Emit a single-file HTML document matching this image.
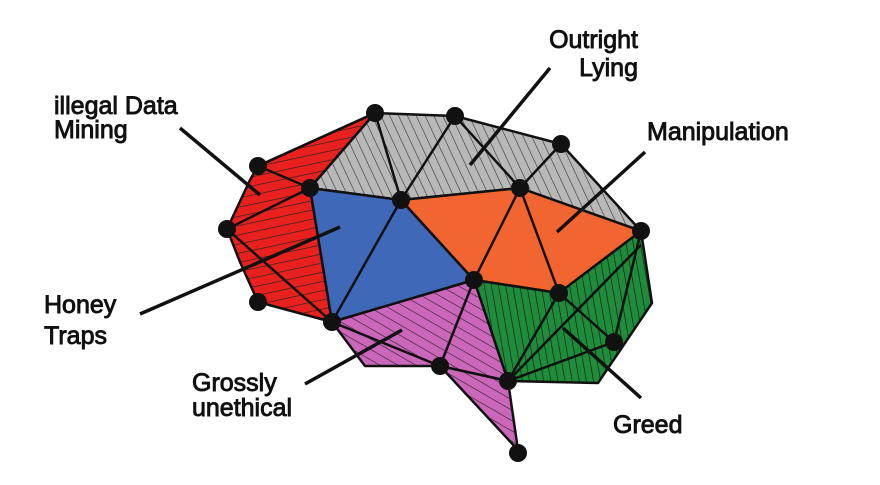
<!DOCTYPE html>
<html><head><meta charset="utf-8"><style>
html,body{margin:0;padding:0;background:#fff;}
svg{display:block}
text{font-family:"Liberation Sans",sans-serif;font-size:25px;fill:#111;stroke:#111;stroke-width:0.9px}
</style></head><body>
<svg width="880" height="485" viewBox="0 0 880 485" xmlns="http://www.w3.org/2000/svg">
<defs>
<pattern id="pr" patternUnits="userSpaceOnUse" width="9" height="9" patternTransform="rotate(-12)"><rect width="9" height="9" fill="#e8211f"/><line x1="0" y1="0" x2="9" y2="0" stroke="#222" stroke-width="1.3"/></pattern>
<pattern id="pg" patternUnits="userSpaceOnUse" width="8" height="8" patternTransform="rotate(-25)"><rect width="8" height="8" fill="#b8b8b8"/><line x1="0" y1="0" x2="0" y2="8" stroke="#333" stroke-width="1.2"/></pattern>
<pattern id="pgr" patternUnits="userSpaceOnUse" width="7" height="7" patternTransform="rotate(-10)"><rect width="7" height="7" fill="#1e8c3a"/><line x1="0" y1="0" x2="0" y2="7" stroke="#111" stroke-width="1.2"/></pattern>
<pattern id="pp" patternUnits="userSpaceOnUse" width="9" height="9" patternTransform="rotate(30)"><rect width="9" height="9" fill="#cc66bb"/><line x1="0" y1="0" x2="9" y2="0" stroke="#222" stroke-width="1.2"/></pattern>
</defs>
<g stroke="#111" stroke-width="2.5" stroke-linejoin="round">
<polygon points="375,113 258,166 250,180 227,229 240,262 258,302 332,322 310,188" fill="url(#pr)"/>
<polygon points="375,113 455,116 561,144 641,231 520,188 401,200 310,188" fill="url(#pg)"/>
<polygon points="310,188 401,200 474,280 332,322" fill="#3f68b8"/>
<polygon points="401,200 520,188 641,231 559,293 474,280" fill="#f26430"/>
<polygon points="474,280 559,293 641,231 652,303 598,383 508,381" fill="url(#pgr)"/>
<polygon points="332,322 474,280 508,381 440,366 365,366" fill="url(#pp)"/>
<polygon points="440,366 508,381 518,450" fill="url(#pp)"/>
</g>
<g stroke="#111" stroke-width="2.5" fill="none">
<line x1="258" y1="166" x2="310" y2="188"/>
<line x1="227" y1="229" x2="310" y2="188"/>
<line x1="227" y1="229" x2="332" y2="322"/>
<line x1="401" y1="200" x2="332" y2="322"/>
<line x1="375" y1="113" x2="401" y2="200"/>
<line x1="455" y1="116" x2="401" y2="200"/>
<line x1="455" y1="116" x2="520" y2="188"/>
<line x1="561" y1="144" x2="520" y2="188"/>
<line x1="520" y1="188" x2="474" y2="280"/>
<line x1="520" y1="188" x2="559" y2="293"/>
<line x1="559" y1="293" x2="508" y2="381"/>
<line x1="559" y1="293" x2="614" y2="342"/>
<line x1="474" y1="280" x2="440" y2="366"/>
<line x1="332" y1="322" x2="440" y2="366"/>
<line x1="508" y1="381" x2="614" y2="342"/>
<line x1="641" y1="231" x2="614" y2="342"/>
<line x1="508" y1="381" x2="641" y2="245"/>
<line x1="375" y1="113" x2="258" y2="166"/>
</g>
<g fill="#111">
<circle cx="375" cy="113" r="9"/><circle cx="455" cy="116" r="9"/><circle cx="561" cy="144" r="9"/>
<circle cx="520" cy="188" r="9"/><circle cx="401" cy="200" r="9"/><circle cx="310" cy="188" r="9"/>
<circle cx="258" cy="166" r="9"/><circle cx="227" cy="229" r="9"/><circle cx="258" cy="302" r="9"/>
<circle cx="332" cy="322" r="9"/><circle cx="474" cy="280" r="9"/><circle cx="559" cy="293" r="9"/>
<circle cx="641" cy="231" r="9"/><circle cx="614" cy="342" r="9"/><circle cx="508" cy="381" r="9"/>
<circle cx="440" cy="366" r="9"/><circle cx="518" cy="453" r="9"/>
</g>
<g stroke="#111" stroke-width="3.5">
<line x1="180" y1="128" x2="260" y2="195"/>
<line x1="550" y1="68" x2="470" y2="165"/>
<line x1="645" y1="152" x2="557" y2="232"/>
<line x1="140" y1="314" x2="340" y2="227"/>
<line x1="305" y1="384" x2="402" y2="330"/>
<line x1="641" y1="398" x2="563" y2="328"/>
</g>
<text x="54" y="114">illegal Data</text>
<text x="54" y="138">Mining</text>
<text x="638" y="48" text-anchor="end">Outright</text>
<text x="638" y="76" text-anchor="end">Lying</text>
<text x="647" y="140">Manipulation</text>
<text x="44" y="313">Honey</text>
<text x="44" y="344">Traps</text>
<text x="192" y="391">Grossly</text>
<text x="192" y="416">unethical</text>
<text x="613" y="433">Greed</text>
</svg>
</body></html>
